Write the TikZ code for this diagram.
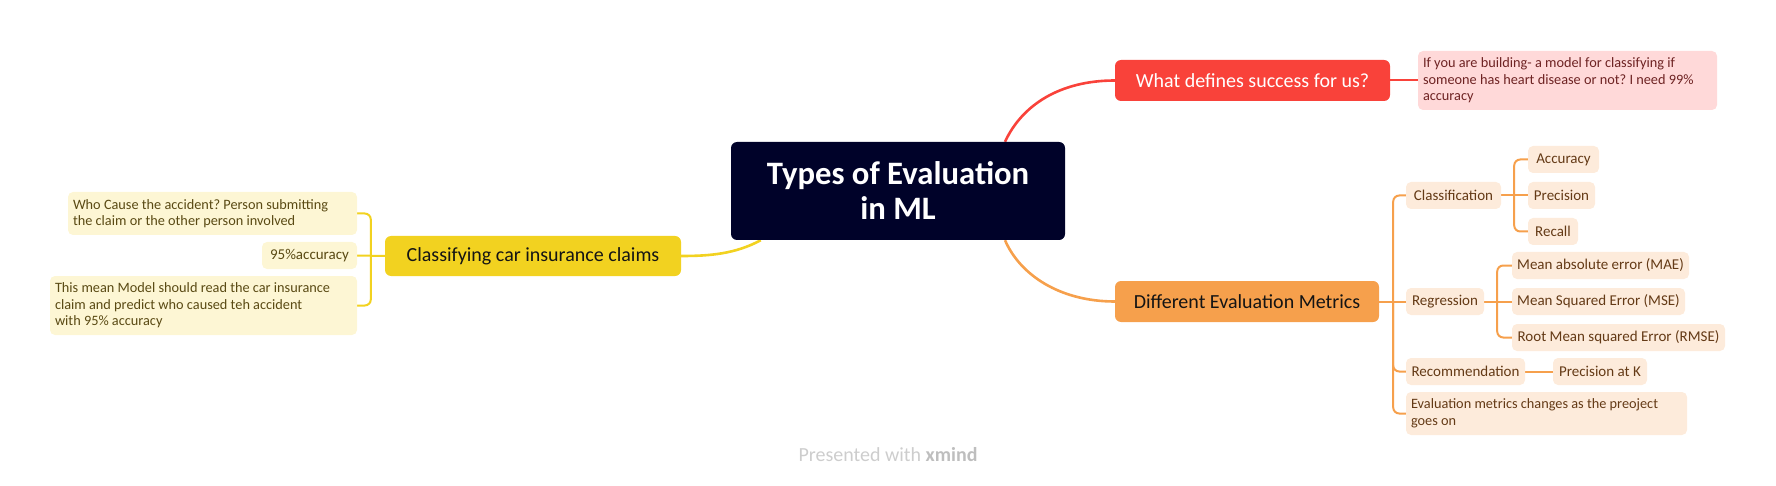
\documentclass[tikz,border=0pt]{standalone}
\usepackage{fontspec}
\setmainfont{Carlito}
\usetikzlibrary{backgrounds}
\definecolor{navy}{RGB}{0,2,41}
\definecolor{redmain}{RGB}{249,66,58}
\definecolor{pinkfill}{RGB}{255,217,217}
\definecolor{pinktext}{RGB}{110,35,35}
\definecolor{orgmain}{RGB}{246,160,76}
\definecolor{orgfill}{RGB}{253,235,219}
\definecolor{orgtext}{RGB}{100,58,22}
\definecolor{ylwmain}{RGB}{242,210,32}
\definecolor{ylwfill}{RGB}{253,246,212}
\definecolor{ylwtext}{RGB}{90,74,20}
\definecolor{darktext}{RGB}{20,20,20}
\definecolor{wmark}{RGB}{205,205,205}
\definecolor{wmarkb}{RGB}{190,190,190}
\frenchspacing
\hyphenpenalty=10000
\begin{document}
\begin{tikzpicture}[x=1pt,y=-1pt,
  box/.style={rectangle, rounded corners=6pt, inner sep=0pt, align=center},
  sz/.style 2 args={minimum width=#1pt, minimum height=#2pt},
  central/.style={box, fill=navy, text=white, font=\fontsize{32.7}{35}\selectfont\bfseries},
  mainsub/.style={box, font=\fontsize{20}{22}\selectfont},
  small/.style={box, rounded corners=5pt, font=\fontsize{15}{16.5}\selectfont},
  osmall/.style={small, fill=orgfill, text=orgtext},
  ysmall/.style={small, fill=ylwfill, text=ylwtext},
  psmall/.style={small, fill=pinkfill, text=pinktext},
  note/.style={align=flush left, inner xsep=5pt, text width=#1pt, font=\fontsize{14.3}{16.5}\selectfont},
  rline/.style={draw=redmain, line width=2.6pt},
  oline/.style={draw=orgmain, line width=2.6pt},
  yline/.style={draw=ylwmain, line width=2.6pt},
  osub/.style={draw=orgmain, line width=2pt, rounded corners=6pt},
  ysub/.style={draw=ylwmain, line width=2pt, rounded corners=6pt},
  rsub/.style={draw=redmain, line width=2pt}
]
\useasboundingbox (0,0) rectangle (1776,486);

% central
\node[central, sz={334}{98}] (central) at (898,191) {Types of Evaluation\\in ML};

% red branch
\node[mainsub, fill=redmain, text=white, sz={275}{41}] (red) at (1252.5,80.5) {What defines success for us?};
\node[psmall, note=289, sz={299}{59}] (pink) at (1567.5,80.5) {If you are building- a model for classifying if\\someone has heart disease or not? I need 99\%\\accuracy};

% orange branch
\node[mainsub, fill=orgmain, text=darktext, sz={264}{41}] (orange) at (1247,301.5) {Different Evaluation Metrics};
\node[osmall, sz={95}{27}] (class) at (1453.5,195.5) {Classification};
\node[osmall, sz={71}{27}] (acc) at (1563.5,159.5) {Accuracy};
\node[osmall, sz={67}{27}] (prec) at (1561.5,195.5) {Precision};
\node[osmall, sz={50}{27}] (recall) at (1553,231.5) {Recall};
\node[osmall, sz={78}{27}] (reg) at (1445,301.5) {Regression};
\node[osmall, sz={177}{27}] (mae) at (1600.5,265.5) {Mean absolute error (MAE)};
\node[osmall, sz={173}{27}] (mse) at (1598.5,301.5) {Mean Squared Error (MSE)};
\node[osmall, sz={213}{27}] (rmse) at (1618.5,337.5) {Root Mean squared Error (RMSE)};
\node[osmall, sz={119}{27}] (recom) at (1465.5,371.5) {Recommendation};
\node[osmall, sz={94}{27}] (preck) at (1600,371.5) {Precision at K};
\node[osmall, note=271, sz={281}{43}] (evalnote) at (1546.5,413.5) {Evaluation metrics changes as the preoject\\goes on};

% yellow branch
\node[mainsub, fill=ylwmain, text=darktext, sz={296}{40}] (yellow) at (533,256) {Classifying car insurance claims};
\node[ysmall, note=279, sz={289}{43}] (yn1) at (212.5,213.5) {Who Cause the accident? Person submitting\\the claim or the other person involved};
\node[ysmall, sz={95}{27}] (yn2) at (309.5,255.5) {95\%accuracy};
\node[ysmall, note=297, sz={307}{59}] (yn3) at (203.5,305.5) {This mean Model should read the car insurance\\claim and predict who caused teh accident\\with 95\% accuracy};

% watermark
\node[font=\fontsize{20}{22}\selectfont, text=wmark, inner sep=0pt] (wm) at (888,455) {Presented with \textcolor{wmarkb}{\bfseries xmind}};

\begin{scope}[on background layer]
  % main curves
  \coordinate (cR) at ([xshift=107pt]central.north);
  \coordinate (cO) at ([xshift=107pt]central.south);
  \coordinate (cY) at ([xshift=30pt]central.south west);
  \draw[rline] (cR) .. controls (1022,105) and (1060,80.5) .. (red.west);
  \draw[oline] (cO) .. controls (1020,275) and (1060,301.5) .. (orange.west);
  \draw[yline] (cY) .. controls (735,254) and (710,256) .. (yellow.east);

  % red sub
  \draw[rsub] (red.east) -- (pink.west);

  % orange subs
  \coordinate (osp) at ([xshift=14pt]orange.east);
  \draw[osub] (orange.east) -- (reg.west);
  \draw[osub] (osp) |- (class.west);
  \draw[osub] (osp) |- (recom.west);
  \draw[osub] (osp) |- (evalnote.west);

  \coordinate (csp) at ([xshift=13pt]class.east);
  \draw[osub] (class.east) -- (prec.west);
  \draw[osub] (csp) |- (acc.west);
  \draw[osub] (csp) |- (recall.west);

  \coordinate (rsp) at ([xshift=13pt]reg.east);
  \draw[osub] (reg.east) -- (mse.west);
  \draw[osub] (rsp) |- (mae.west);
  \draw[osub] (rsp) |- (rmse.west);

  \draw[osub] (recom.east) -- (preck.west);

  % yellow subs
  \coordinate (ysp) at ([xshift=-14pt]yellow.west);
  \draw[ysub] (yellow.west) -- (yn2.east);
  \draw[ysub] (ysp) |- (yn1.east);
  \draw[ysub] (ysp) |- (yn3.east);
\end{scope}
\end{tikzpicture}
\end{document}
